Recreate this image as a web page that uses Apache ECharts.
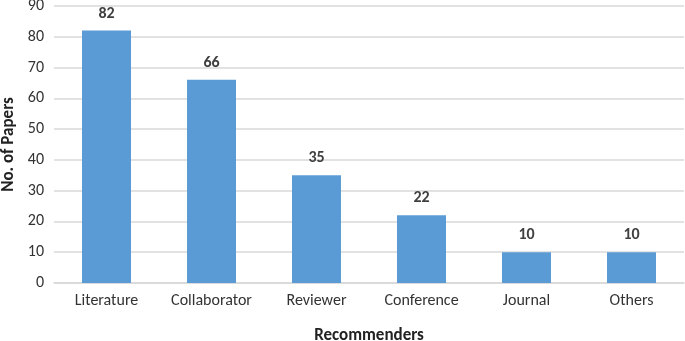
<!DOCTYPE html>
<html>
<head>
<meta charset="utf-8">
<script src="https://cdn.jsdelivr.net/npm/echarts@6/dist/echarts.min.js"></script>
<style>
html, body { margin: 0; padding: 0; background: #fff; }
#chart { width: 685px; height: 341px; }
</style>
</head>
<body>
<div id="chart"></div>
<script>
var categories = ['Literature', 'Collaborator', 'Reviewer', 'Conference', 'Journal', 'Others'];
var papers = [82, 66, 35, 22, 10, 10];
var yTicks = [0, 90, 10]; // min, max, step

var font = 'Calibri, Carlito, Lato, "DejaVu Sans", sans-serif';

var chart = echarts.init(document.getElementById('chart'));
chart.setOption({
	animation: false,
	grid: {
		left: 54,
		right: 1,
		top: 6,
		bottom: 58,
		outerBoundsMode: 'none'
	},
	xAxis: {
		type: 'category',
		data: categories,
		name: 'Recommenders',
		nameLocation: 'middle',
		nameGap: 44,
		nameTextStyle: { fontFamily: font, fontSize: 17, fontWeight: 'bold', color: '#222' },
		axisLine: { lineStyle: { color: '#d9d9d9', width: 1.5 } },
		axisTick: { show: false },
		axisLabel: { fontFamily: font, fontSize: 16, color: '#333', margin: 10, interval: 0 }
	},
	yAxis: {
		type: 'value',
		min: yTicks[0],
		max: yTicks[1],
		interval: yTicks[2],
		name: 'No. of Papers',
		nameLocation: 'middle',
		nameGap: 34,
		nameTextStyle: { fontFamily: font, fontSize: 17, fontWeight: 'bold', color: '#222' },
		axisLine: { show: false },
		axisTick: { show: false },
		axisLabel: { fontFamily: font, fontSize: 16, color: '#333', margin: 10 },
		splitLine: { lineStyle: { color: '#d9d9d9', width: 1.5 } }
	},
	series: [{
		type: 'bar',
		data: papers,
		barWidth: 49,
		itemStyle: { color: '#5b9bd5' },
		label: {
			show: true,
			position: 'top',
			distance: 9,
			fontFamily: font,
			fontSize: 16,
			fontWeight: 'bold',
			color: '#404040'
		}
	}]
});
</script>
</body>
</html>
